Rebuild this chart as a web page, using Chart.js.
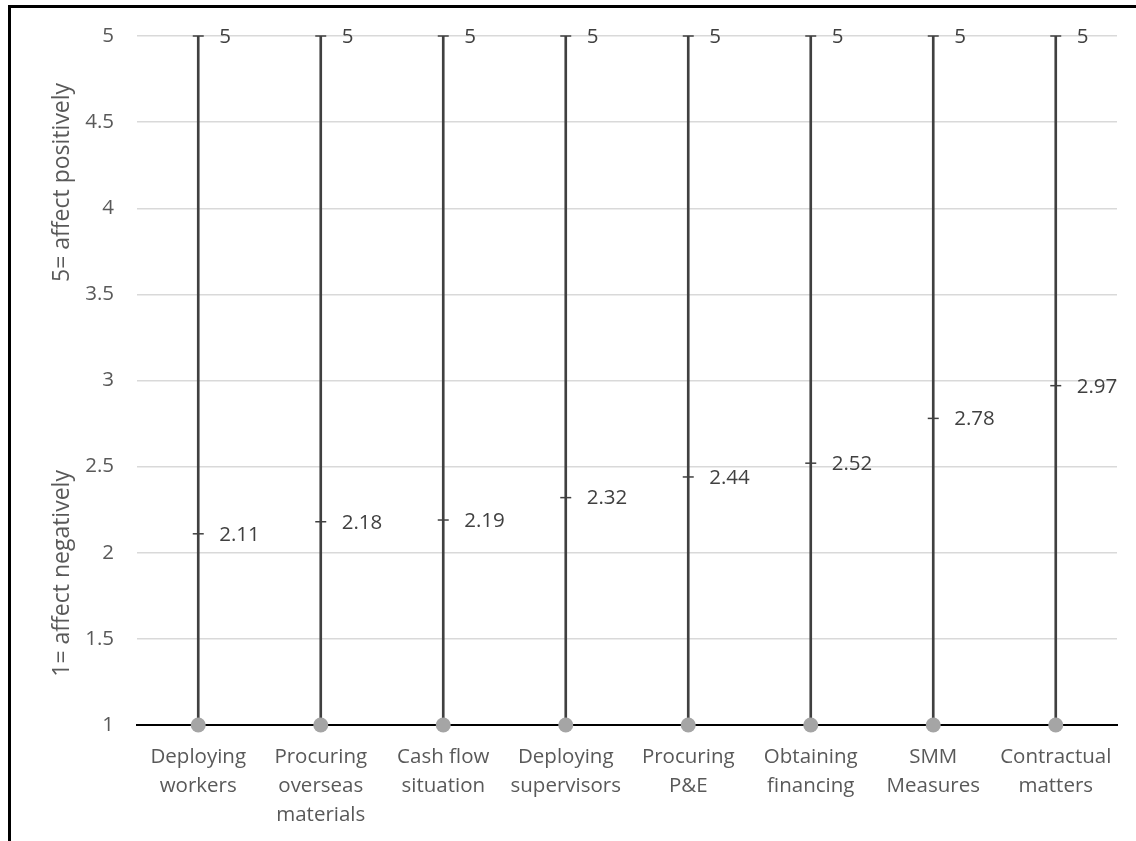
<!DOCTYPE html>
<html>
<head>
<meta charset="utf-8">
<script src="https://cdn.jsdelivr.net/npm/chart.js@4/dist/chart.umd.min.js"></script>
<style>
  html, body { margin: 0; padding: 0; background: #fff; }
  #wrap { position: relative; width: 1136px; height: 841px; overflow: hidden; }
  #frame { position: absolute; left: 8px; top: 5px; width: 1200px; height: 900px;
           border-left: 3px solid #000; border-top: 3px solid #000; pointer-events: none; }
</style>
</head>
<body>
<div id="wrap">
  <canvas id="c" width="1136" height="841"></canvas>
  <div id="frame"></div>
</div>
<script>
// Factors and their scores (scale 1 = affect negatively, 5 = affect positively)
const categories = [
  ['Deploying', 'workers'],
  ['Procuring', 'overseas', 'materials'],
  ['Cash flow', 'situation'],
  ['Deploying', 'supervisors'],
  ['Procuring', 'P&E'],
  ['Obtaining', 'financing'],
  ['SMM', 'Measures'],
  ['Contractual', 'matters']
];
const highValues = [5, 5, 5, 5, 5, 5, 5, 5];
const lowValues  = [1, 1, 1, 1, 1, 1, 1, 1];
const meanValues = [2.11, 2.18, 2.19, 2.32, 2.44, 2.52, 2.78, 2.97];
const yTickValues = [1, 1.5, 2, 2.5, 3, 3.5, 4, 4.5, 5];
const yTickLabels = ['1', '1.5', '2', '2.5', '3', '3.5', '4', '4.5', '5'];
const axisTitleLow = '1= affect negatively';
const axisTitleHigh = '5= affect positively';

const FONT = '"Open Sans", "DejaVu Sans", sans-serif';
const FONT_SIZE = 20.5;
const TITLE_SIZE = 23;

// Writes the value next to the high and mean markers
const valueLabels = {
  id: 'valueLabels',
  afterDatasetsDraw(chart) {
    const ctx = chart.ctx;
    ctx.save();
    ctx.font = FONT_SIZE + 'px ' + FONT;
    ctx.fillStyle = '#404040';
    ctx.textAlign = 'left';
    ctx.textBaseline = 'middle';
    chart.data.datasets.forEach((ds, di) => {
      if (!ds.showValue) return;
      const meta = chart.getDatasetMeta(di);
      meta.data.forEach((pt, i) => {
        const v = ds.data[i];
        const txt = Number.isInteger(v) ? String(v) : v.toFixed(2);
        ctx.fillText(txt, pt.x + 21, pt.y + 1);
      });
    });
    ctx.restore();
  }
};

// Two-part vertical axis caption
const axisCaption = {
  id: 'axisCaption',
  afterDraw(chart) {
    const y = chart.scales.y;
    const ctx = chart.ctx;
    ctx.save();
    ctx.font = TITLE_SIZE + 'px ' + FONT;
    ctx.fillStyle = '#595959';
    ctx.textAlign = 'center';
    ctx.textBaseline = 'middle';
    const parts = [[axisTitleLow, 1.88], [axisTitleHigh, 4.15]];
    parts.forEach(([text, v]) => {
      ctx.save();
      ctx.translate(62, y.getPixelForValue(v));
      ctx.rotate(-Math.PI / 2);
      ctx.fillText(text, 0, 0);
      ctx.restore();
    });
    ctx.restore();
  }
};

new Chart(document.getElementById('c'), {
  data: {
    labels: categories,
    datasets: [
      {
        type: 'bar',
        label: 'Range',
        data: highValues.map((h, i) => [lowValues[i], h]),
        backgroundColor: '#404040',
        barThickness: 2,
        grouped: false,
        order: 4
      },
      {
        type: 'line',
        label: 'High',
        data: highValues,
        showLine: false,
        pointStyle: 'line',
        pointRadius: 5.5,
        pointBorderWidth: 1.5,
        borderColor: '#404040',
        clip: false,
        showValue: true,
        order: 3
      },
      {
        type: 'line',
        label: 'Mean',
        data: meanValues,
        showLine: false,
        pointStyle: 'line',
        pointRadius: 5.5,
        pointBorderWidth: 1.5,
        borderColor: '#404040',
        clip: false,
        showValue: true,
        order: 2
      },
      {
        type: 'line',
        label: 'Low',
        data: lowValues,
        showLine: false,
        pointStyle: 'circle',
        pointRadius: 7.5,
        pointBorderWidth: 0,
        pointBackgroundColor: '#a5a5a5',
        borderColor: '#a5a5a5',
        clip: false,
        order: 1
      }
    ]
  },
  options: {
    responsive: false,
    animation: false,
    devicePixelRatio: 1,
    layout: { padding: { left: 0, right: 19, top: 36, bottom: 0 } },
    plugins: {
      legend: { display: false },
      tooltip: { enabled: false }
    },
    scales: {
      x: {
        type: 'category',
        offset: true,
        grid: { display: false, drawTicks: false },
        border: { display: true, color: '#000', width: 2 },
        ticks: {
          color: '#595959',
          font: { family: FONT, size: FONT_SIZE, lineHeight: 1.4 },
          padding: 18,
          maxRotation: 0,
          autoSkip: false
        },
        afterFit(scale) { scale.height = 116; }
      },
      y: {
        type: 'linear',
        min: 1,
        max: 5,
        afterBuildTicks(scale) { scale.ticks = yTickValues.map(v => ({ value: v })); },
        grid: { color: '#d9d9d9', lineWidth: 1.5, drawTicks: false },
        border: { display: false },
        ticks: {
          color: '#595959',
          font: { family: FONT, size: FONT_SIZE },
          padding: 23,
          callback: (v) => yTickLabels[yTickValues.indexOf(v)]
        },
        afterFit(scale) { scale.width = 137; }
      }
    }
  },
  plugins: [valueLabels, axisCaption]
});
</script>
</body>
</html>
